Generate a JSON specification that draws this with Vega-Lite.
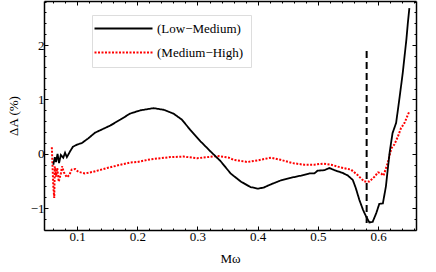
{
  "$schema": "https://vega.github.io/schema/vega-lite/v6.json",
  "width": 372,
  "height": 229,
  "autosize": {"type": "none"},
  "padding": {"left": 44, "top": 1, "right": 20, "bottom": 42},
  "background": "white",
  "config": {
    "view": {"stroke": null},
    "font": "Liberation Serif",
    "axis": {"labelFont": "Liberation Serif", "titleFont": "Liberation Serif", "labelColor": "black", "titleColor": "black", "labelFontSize": 13, "titleFontSize": 13, "titleFontWeight": "normal", "grid": false, "tickColor": "black", "domainColor": "black", "tickWidth": 1, "domainWidth": 1.5},
    "legend": {"labelFont": "Liberation Serif", "labelFontSize": 13, "labelColor": "black"}
  },
  "datasets": {
    "curves": [
      {"x": 0.0605, "y": -0.20, "s": "(Low−Medium)"},
      {"x": 0.063, "y": -0.06, "s": "(Low−Medium)"},
      {"x": 0.065, "y": -0.15, "s": "(Low−Medium)"},
      {"x": 0.0675, "y": 0.0, "s": "(Low−Medium)"},
      {"x": 0.070, "y": -0.17, "s": "(Low−Medium)"},
      {"x": 0.073, "y": -0.02, "s": "(Low−Medium)"},
      {"x": 0.077, "y": -0.07, "s": "(Low−Medium)"},
      {"x": 0.080, "y": 0.02, "s": "(Low−Medium)"},
      {"x": 0.083, "y": -0.06, "s": "(Low−Medium)"},
      {"x": 0.088, "y": 0.04, "s": "(Low−Medium)"},
      {"x": 0.093, "y": 0.13, "s": "(Low−Medium)"},
      {"x": 0.100, "y": 0.17, "s": "(Low−Medium)"},
      {"x": 0.108, "y": 0.20, "s": "(Low−Medium)"},
      {"x": 0.118, "y": 0.28, "s": "(Low−Medium)"},
      {"x": 0.130, "y": 0.39, "s": "(Low−Medium)"},
      {"x": 0.155, "y": 0.52, "s": "(Low−Medium)"},
      {"x": 0.172, "y": 0.63, "s": "(Low−Medium)"},
      {"x": 0.188, "y": 0.74, "s": "(Low−Medium)"},
      {"x": 0.205, "y": 0.80, "s": "(Low−Medium)"},
      {"x": 0.227, "y": 0.84, "s": "(Low−Medium)"},
      {"x": 0.244, "y": 0.81, "s": "(Low−Medium)"},
      {"x": 0.260, "y": 0.74, "s": "(Low−Medium)"},
      {"x": 0.274, "y": 0.63, "s": "(Low−Medium)"},
      {"x": 0.288, "y": 0.44, "s": "(Low−Medium)"},
      {"x": 0.305, "y": 0.23, "s": "(Low−Medium)"},
      {"x": 0.322, "y": 0.04, "s": "(Low−Medium)"},
      {"x": 0.338, "y": -0.13, "s": "(Low−Medium)"},
      {"x": 0.355, "y": -0.36, "s": "(Low−Medium)"},
      {"x": 0.372, "y": -0.51, "s": "(Low−Medium)"},
      {"x": 0.388, "y": -0.61, "s": "(Low−Medium)"},
      {"x": 0.400, "y": -0.64, "s": "(Low−Medium)"},
      {"x": 0.410, "y": -0.62, "s": "(Low−Medium)"},
      {"x": 0.422, "y": -0.56, "s": "(Low−Medium)"},
      {"x": 0.438, "y": -0.49, "s": "(Low−Medium)"},
      {"x": 0.455, "y": -0.44, "s": "(Low−Medium)"},
      {"x": 0.472, "y": -0.40, "s": "(Low−Medium)"},
      {"x": 0.486, "y": -0.36, "s": "(Low−Medium)"},
      {"x": 0.494, "y": -0.36, "s": "(Low−Medium)"},
      {"x": 0.4995, "y": -0.31, "s": "(Low−Medium)"},
      {"x": 0.511, "y": -0.30, "s": "(Low−Medium)"},
      {"x": 0.519, "y": -0.26, "s": "(Low−Medium)"},
      {"x": 0.530, "y": -0.31, "s": "(Low−Medium)"},
      {"x": 0.541, "y": -0.35, "s": "(Low−Medium)"},
      {"x": 0.550, "y": -0.40, "s": "(Low−Medium)"},
      {"x": 0.558, "y": -0.48, "s": "(Low−Medium)"},
      {"x": 0.563, "y": -0.63, "s": "(Low−Medium)"},
      {"x": 0.569, "y": -0.85, "s": "(Low−Medium)"},
      {"x": 0.575, "y": -1.03, "s": "(Low−Medium)"},
      {"x": 0.580, "y": -1.15, "s": "(Low−Medium)"},
      {"x": 0.5855, "y": -1.26, "s": "(Low−Medium)"},
      {"x": 0.591, "y": -1.25, "s": "(Low−Medium)"},
      {"x": 0.597, "y": -1.09, "s": "(Low−Medium)"},
      {"x": 0.602, "y": -0.92, "s": "(Low−Medium)"},
      {"x": 0.608, "y": -0.91, "s": "(Low−Medium)"},
      {"x": 0.613, "y": -0.60, "s": "(Low−Medium)"},
      {"x": 0.619, "y": 0.01, "s": "(Low−Medium)"},
      {"x": 0.624, "y": 0.38, "s": "(Low−Medium)"},
      {"x": 0.630, "y": 0.57, "s": "(Low−Medium)"},
      {"x": 0.636, "y": 1.06, "s": "(Low−Medium)"},
      {"x": 0.641, "y": 1.49, "s": "(Low−Medium)"},
      {"x": 0.647, "y": 2.10, "s": "(Low−Medium)"},
      {"x": 0.6495, "y": 2.41, "s": "(Low−Medium)"},
      {"x": 0.652, "y": 2.68, "s": "(Low−Medium)"},
      {"x": 0.058, "y": 0.12, "s": "(Medium−High)"},
      {"x": 0.059, "y": -0.17, "s": "(Medium−High)"},
      {"x": 0.0605, "y": -0.60, "s": "(Medium−High)"},
      {"x": 0.062, "y": -0.81, "s": "(Medium−High)"},
      {"x": 0.063, "y": -0.23, "s": "(Medium−High)"},
      {"x": 0.065, "y": -0.42, "s": "(Medium−High)"},
      {"x": 0.067, "y": -0.26, "s": "(Medium−High)"},
      {"x": 0.0695, "y": -0.51, "s": "(Medium−High)"},
      {"x": 0.073, "y": -0.36, "s": "(Medium−High)"},
      {"x": 0.075, "y": -0.23, "s": "(Medium−High)"},
      {"x": 0.078, "y": -0.34, "s": "(Medium−High)"},
      {"x": 0.083, "y": -0.43, "s": "(Medium−High)"},
      {"x": 0.087, "y": -0.39, "s": "(Medium−High)"},
      {"x": 0.091, "y": -0.29, "s": "(Medium−High)"},
      {"x": 0.097, "y": -0.28, "s": "(Medium−High)"},
      {"x": 0.102, "y": -0.33, "s": "(Medium−High)"},
      {"x": 0.113, "y": -0.36, "s": "(Medium−High)"},
      {"x": 0.127, "y": -0.33, "s": "(Medium−High)"},
      {"x": 0.150, "y": -0.26, "s": "(Medium−High)"},
      {"x": 0.172, "y": -0.20, "s": "(Medium−High)"},
      {"x": 0.188, "y": -0.16, "s": "(Medium−High)"},
      {"x": 0.200, "y": -0.15, "s": "(Medium−High)"},
      {"x": 0.222, "y": -0.10, "s": "(Medium−High)"},
      {"x": 0.255, "y": -0.06, "s": "(Medium−High)"},
      {"x": 0.277, "y": -0.05, "s": "(Medium−High)"},
      {"x": 0.2995, "y": -0.08, "s": "(Medium−High)"},
      {"x": 0.333, "y": -0.04, "s": "(Medium−High)"},
      {"x": 0.352, "y": -0.07, "s": "(Medium−High)"},
      {"x": 0.360, "y": -0.11, "s": "(Medium−High)"},
      {"x": 0.383, "y": -0.15, "s": "(Medium−High)"},
      {"x": 0.400, "y": -0.12, "s": "(Medium−High)"},
      {"x": 0.422, "y": -0.07, "s": "(Medium−High)"},
      {"x": 0.438, "y": -0.11, "s": "(Medium−High)"},
      {"x": 0.458, "y": -0.17, "s": "(Medium−High)"},
      {"x": 0.477, "y": -0.20, "s": "(Medium−High)"},
      {"x": 0.494, "y": -0.20, "s": "(Medium−High)"},
      {"x": 0.508, "y": -0.18, "s": "(Medium−High)"},
      {"x": 0.522, "y": -0.20, "s": "(Medium−High)"},
      {"x": 0.538, "y": -0.25, "s": "(Medium−High)"},
      {"x": 0.555, "y": -0.29, "s": "(Medium−High)"},
      {"x": 0.566, "y": -0.39, "s": "(Medium−High)"},
      {"x": 0.577, "y": -0.51, "s": "(Medium−High)"},
      {"x": 0.5855, "y": -0.51, "s": "(Medium−High)"},
      {"x": 0.594, "y": -0.42, "s": "(Medium−High)"},
      {"x": 0.600, "y": -0.34, "s": "(Medium−High)"},
      {"x": 0.605, "y": -0.36, "s": "(Medium−High)"},
      {"x": 0.609, "y": -0.40, "s": "(Medium−High)"},
      {"x": 0.616, "y": -0.17, "s": "(Medium−High)"},
      {"x": 0.622, "y": 0.10, "s": "(Medium−High)"},
      {"x": 0.627, "y": 0.17, "s": "(Medium−High)"},
      {"x": 0.633, "y": 0.32, "s": "(Medium−High)"},
      {"x": 0.638, "y": 0.47, "s": "(Medium−High)"},
      {"x": 0.644, "y": 0.57, "s": "(Medium−High)"},
      {"x": 0.6495, "y": 0.72, "s": "(Medium−High)"},
      {"x": 0.652, "y": 0.78, "s": "(Medium−High)"}
    ],
    "marker": [{"x": 0.581, "y": -1.27, "y2": 1.95}]
  },
  "layer": [
    {
      "mark": {"type": "rule", "color": "#cccccc", "strokeWidth": 1.5},
      "encoding": {
        "x": {"datum": 0.045, "type": "quantitative", "scale": {"domain": [0.045, 0.663], "nice": false, "zero": false}, "axis": {"orient": "bottom", "values": [0.06, 0.08, 0.12, 0.14, 0.16, 0.18, 0.22, 0.24, 0.26, 0.28, 0.32, 0.34, 0.36, 0.38, 0.42, 0.44, 0.46, 0.48, 0.52, 0.54, 0.56, 0.58, 0.62, 0.64, 0.66], "labels": false, "domain": false, "tickSize": -2, "title": null}},
        "x2": {"datum": 0.663},
        "y": {"datum": 0, "type": "quantitative", "scale": {"domain": [-1.4, 2.81], "nice": false, "zero": false}, "axis": {"orient": "left", "values": [-1.4, -1.2, -0.8, -0.6, -0.4, -0.2, 0.2, 0.4, 0.6, 0.8, 1.2, 1.4, 1.6, 1.8, 2.2, 2.4, 2.6, 2.8], "labels": false, "domain": false, "tickSize": -2, "title": null}}
      }
    },
    {
      "data": {"name": "marker"},
      "mark": {"type": "rule", "color": "black", "strokeWidth": 2, "strokeDash": [7, 4]},
      "encoding": {
        "x": {"field": "x", "type": "quantitative", "axis": {"orient": "top", "values": [0.1, 0.2, 0.3, 0.4, 0.5, 0.6], "labels": false, "domain": true, "tickSize": -4, "title": null}},
        "y": {"field": "y", "type": "quantitative", "axis": {"orient": "right", "values": [-1, 0, 1, 2], "labels": false, "domain": true, "tickSize": -4, "title": null}},
        "y2": {"field": "y2"}
      }
    },
    {
      "data": {"name": "curves"},
      "transform": [{"filter": "datum.s === '(Medium−High)'"}],
      "mark": {"type": "line", "strokeWidth": 2},
      "encoding": {
        "x": {"field": "x", "type": "quantitative", "axis": {"orient": "top", "values": [0.06, 0.08, 0.12, 0.14, 0.16, 0.18, 0.22, 0.24, 0.26, 0.28, 0.32, 0.34, 0.36, 0.38, 0.42, 0.44, 0.46, 0.48, 0.52, 0.54, 0.56, 0.58, 0.62, 0.64, 0.66], "labels": false, "domain": false, "tickSize": -2, "title": null}},
        "y": {"field": "y", "type": "quantitative", "axis": {"orient": "right", "values": [-1.4, -1.2, -0.8, -0.6, -0.4, -0.2, 0.2, 0.4, 0.6, 0.8, 1.2, 1.4, 1.6, 1.8, 2.2, 2.4, 2.6, 2.8], "labels": false, "domain": false, "tickSize": -2, "title": null}},
        "color": {"field": "s", "type": "nominal", "scale": {"domain": ["(Low−Medium)", "(Medium−High)"], "range": ["black", "#ff0000"]}, "legend": {"title": null, "orient": "none", "legendX": 48, "legendY": 14, "symbolType": "M-5.8,0H5.8", "symbolSize": 100, "symbolStrokeWidth": 2, "symbolOffset": 18, "strokeColor": "#dddddd", "fillColor": "white", "padding": 7, "labelOffset": 27, "rowPadding": 10}},
        "strokeDash": {"field": "s", "type": "nominal", "scale": {"domain": ["(Low−Medium)", "(Medium−High)"], "range": [[1, 0], [2, 1.5]]}, "legend": {"title": null, "orient": "none", "legendX": 48, "legendY": 14, "symbolType": "M-5.8,0H5.8", "symbolSize": 100, "symbolStrokeWidth": 2, "symbolOffset": 18, "strokeColor": "#dddddd", "fillColor": "white", "padding": 7, "labelOffset": 27, "rowPadding": 10}}
      }
    },
    {
      "data": {"name": "curves"},
      "transform": [{"filter": "datum.s === '(Low−Medium)'"}],
      "mark": {"type": "line", "strokeWidth": 1.8},
      "encoding": {
        "x": {"field": "x", "type": "quantitative", "title": "Mω", "axis": {"orient": "bottom", "values": [0.1, 0.2, 0.3, 0.4, 0.5, 0.6], "format": ".1f", "domain": true, "tickSize": -4, "labelPadding": 4, "titlePadding": 9}},
        "y": {"field": "y", "type": "quantitative", "title": "ΔA (%)", "axis": {"orient": "left", "values": [-1, 0, 1, 2], "format": "d", "domain": true, "tickSize": -4, "labelPadding": 4, "titlePadding": 10}},
        "color": {"field": "s", "type": "nominal"},
        "strokeDash": {"field": "s", "type": "nominal"}
      }
    }
  ],
  "resolve": {"axis": {"x": "independent", "y": "independent"}}
}
